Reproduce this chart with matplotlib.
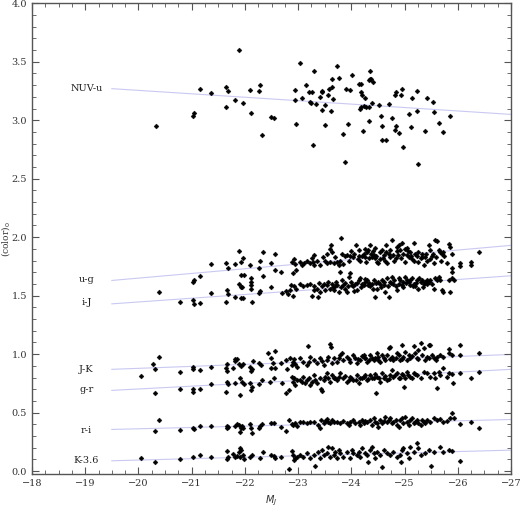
import matplotlib
matplotlib.use("Agg")
import matplotlib.pyplot as plt
from matplotlib.ticker import MultipleLocator, FormatStrFormatter

# ---------------- data ----------------
nuv_x = [-20.33, -21.02, -21.04, -21.15, -21.37, -21.65, -21.68, -21.65, -21.82, -21.88, -21.97, -22.10,
         -22.11, -22.26, -22.29, -22.33, -22.49, -22.55, -22.95, -22.94, -22.96, -23.04, -23.08, -23.14,
         -23.20, -23.26, -23.23, -23.25, -23.30, -23.28, -23.33, -23.41, -23.44, -23.45, -23.45, -23.50,
         -23.51, -23.57, -23.58, -23.63, -23.63, -23.61, -23.66, -23.74, -23.77, -23.85, -23.88, -23.90,
         -23.93, -23.98, -24.02, -24.15, -24.19, -24.18, -24.20, -24.25, -24.17, -24.19, -24.23, -24.27,
         -24.22, -24.33, -24.34, -24.36, -24.33, -24.36, -24.37, -24.41, -24.38, -24.52, -24.56, -24.57,
         -24.57, -24.65, -24.70, -24.77, -24.82, -24.84, -24.84, -24.82, -24.90, -24.93, -24.96, -24.97,
         -25.08, -25.13, -25.14, -25.24, -25.23, -25.26, -25.39, -25.43, -25.53, -25.56, -25.65, -25.72,
         -25.85]
nuv_y = [2.95, 3.04, 3.06, 3.27, 3.23, 3.28, 3.25, 3.11, 3.17, 3.60, 3.15, 3.26,
         3.06, 3.25, 3.30, 2.87, 3.03, 3.02, 3.26, 3.17, 2.97, 3.49, 3.19, 3.30,
         3.24, 3.24, 3.16, 3.15, 3.42, 2.79, 3.14, 3.20, 3.25, 3.24, 3.09, 3.13,
         2.96, 3.22, 3.27, 3.28, 3.35, 3.08, 3.18, 3.46, 3.36, 2.88, 2.64, 3.27,
         2.97, 3.26, 3.39, 3.31, 3.31, 3.24, 3.22, 3.19, 3.10, 3.11, 3.12, 3.11,
         2.91, 2.99, 3.11, 3.42, 3.34, 3.35, 3.35, 3.33, 3.15, 3.13, 3.04, 2.95,
         2.83, 2.83, 3.14, 3.02, 3.22, 3.24, 2.95, 2.92, 2.89, 3.22, 3.27, 2.77,
         3.05, 2.94, 3.19, 3.25, 3.08, 2.63, 2.91, 3.19, 3.16, 3.07, 2.98, 2.90,
         3.04]

ug_x = [-21.03, -21.04, -21.15, -21.37, -21.65, -21.68, -21.82, -21.88, -21.93, -21.97, -21.88, -21.92,
        -21.98, -22.10, -22.11, -22.11, -22.26, -22.29, -22.34, -22.34, -22.49, -22.56, -22.56, -22.68,
        -22.93, -22.94, -22.96, -22.88, -22.91,
        -23.80, -23.62, -23.59, -23.54, -23.64, -23.29, -23.26, -23.28, -23.23, -23.29, -23.17, -23.12,
        -23.04, -23.07, -23.51, -23.54, -23.60, -23.67, -23.73, -23.76, -23.82, -23.89, -23.92, -23.98,
        -24.04, -24.09, -24.14, -24.17, -24.23, -24.26, -24.29, -24.32, -24.36, -24.37, -24.39, -24.42,
        -24.45, -24.48, -24.51, -24.54, -24.58, -24.61, -24.64, -24.67, -24.70, -24.73, -24.76, -24.79,
        -24.83, -24.86, -24.89, -24.92, -24.95, -24.98, -25.01, -25.04, -25.08, -25.11, -25.14, -25.17,
        -25.20, -25.23, -25.26, -25.30, -25.33, -25.36, -25.39, -25.42, -25.45, -25.48, -25.51, -25.55,
        -25.58, -25.61, -25.64, -25.67, -25.70, -25.73, -25.80, -25.83, -25.86, -25.89, -25.90, -26.05,
        -26.05, -26.25, -26.25, -26.40,
        -24.05, -24.12, -24.20, -24.27, -24.34, -24.41, -24.47, -24.53, -24.60, -24.66, -24.72, -24.80,
        -24.87, -24.94, -25.00, -25.06, -25.12, -25.18, -25.25, -25.32, -25.40, -25.47, -25.53, -25.60,
        -25.68, -25.75, -23.35, -23.42, -23.47, -23.70, -23.78, -23.85, -23.95, -24.00, -24.15, -24.25,
        -24.45, -24.65, -24.85, -25.05]
ug_y = [1.62, 1.63, 1.67, 1.77, 1.78, 1.74, 1.77, 1.88, 1.79, 1.82, 1.60, 1.68,
        1.68, 1.76, 1.65, 1.62, 1.74, 1.80, 1.87, 1.67, 1.78, 1.86, 1.72, 1.70,
        1.81, 1.77, 1.72, 1.79, 1.69,
        1.99, 1.93, 1.90, 1.86, 1.87, 1.85, 1.82, 1.79, 1.78, 1.76, 1.80, 1.78,
        1.79, 1.76, 1.80, 1.78, 1.79, 1.78, 1.79, 1.76, 1.86, 1.84, 1.85, 1.84,
        1.83, 1.93, 1.84, 1.80, 1.86, 1.83, 1.87, 1.89, 1.93, 1.86, 1.83, 1.85,
        1.82, 1.79, 1.78, 1.87, 1.89, 1.85, 1.80, 1.78, 1.86, 1.89, 1.98, 1.85,
        1.82, 1.92, 1.93, 1.89, 1.95, 1.86, 1.90, 1.85, 1.83, 1.87, 1.81, 1.95,
        1.86, 1.84, 1.79, 1.82, 1.86, 1.76, 1.83, 1.80, 1.93, 1.89, 1.84, 1.78,
        1.98, 1.97, 1.89, 1.87, 1.86, 1.87, 1.78, 1.94, 1.92, 1.86, 1.74, 1.78,
        1.75, 1.79, 1.76, 1.87,
        1.86, 1.81, 1.84, 1.79, 1.82, 1.88, 1.84, 1.81, 1.82, 1.87, 1.83, 1.80,
        1.85, 1.82, 1.79, 1.88, 1.84, 1.80, 1.87, 1.83, 1.86, 1.81, 1.86, 1.83,
        1.80, 1.84, 1.80, 1.76, 1.83, 1.83, 1.80, 1.77, 1.80, 1.88, 1.89, 1.90,
        1.91, 1.93, 1.88, 1.91]

ij_x = [-20.39, -20.78, -21.03, -21.04, -21.15, -21.37, -21.66, -21.68, -21.65, -21.82, -21.92, -21.95,
        -21.92, -21.97, -22.11, -22.12, -22.13, -22.29, -22.27, -22.49, -22.69, -22.77, -22.81, -22.84,
        -22.87, -22.91, -22.93, -22.96,
        -23.04, -23.10, -23.17, -23.23, -23.26, -23.29, -23.35, -23.38, -23.42, -23.45, -23.48, -23.51,
        -23.54, -23.60, -23.64, -23.67, -23.70, -23.73, -23.76, -23.79, -23.82, -23.85, -23.89, -23.92,
        -23.95, -23.98, -24.01, -24.04, -24.07, -24.11, -24.14, -24.17, -24.20, -24.23, -24.26, -24.29,
        -24.32, -24.36, -24.39, -24.42, -24.45, -24.48, -24.51, -24.54, -24.58, -24.61, -24.64, -24.67,
        -24.70, -24.73, -24.76, -24.79, -24.83, -24.86, -24.89, -24.92, -24.95, -24.98, -25.01, -25.04,
        -25.08, -25.11, -25.14, -25.17, -25.20, -25.23, -25.26, -25.30, -25.33, -25.36, -25.39, -25.42,
        -25.45, -25.48, -25.51, -25.55, -25.58, -25.61, -25.64, -25.67, -25.70, -25.73, -25.83, -25.85,
        -25.89, -25.92, -25.90,
        -24.10, -24.18, -24.25, -24.33, -24.40, -24.47, -24.55, -24.62, -24.68, -24.75, -24.81, -24.90,
        -24.97, -25.03, -25.10, -25.15, -25.22, -25.28, -25.35, -25.43, -23.30, -23.40, -23.57, -23.65,
        -23.72, -23.80, -23.88, -23.94, -24.00, -24.05]
ij_y = [1.53, 1.45, 1.46, 1.43, 1.44, 1.52, 1.55, 1.51, 1.45, 1.49, 1.57, 1.57,
        1.48, 1.48, 1.56, 1.59, 1.45, 1.54, 1.52, 1.57, 1.52, 1.54, 1.51, 1.55,
        1.59, 1.50, 1.58, 1.56,
        1.60, 1.58, 1.59, 1.60, 1.50, 1.58, 1.56, 1.49, 1.53, 1.58, 1.60, 1.55,
        1.59, 1.56, 1.60, 1.55, 1.58, 1.59, 1.53, 1.70, 1.63, 1.59, 1.56, 1.53,
        1.66, 1.69, 1.59, 1.58, 1.60, 1.55, 1.63, 1.65, 1.60, 1.59, 1.62, 1.63,
        1.59, 1.58, 1.60, 1.63, 1.49, 1.56, 1.62, 1.60, 1.63, 1.59, 1.53, 1.65,
        1.49, 1.62, 1.66, 1.60, 1.58, 1.55, 1.65, 1.63, 1.59, 1.62, 1.66, 1.63,
        1.62, 1.59, 1.65, 1.60, 1.58, 1.63, 1.56, 1.62, 1.63, 1.60, 1.62, 1.63,
        1.62, 1.63, 1.60, 1.56, 1.65, 1.63, 1.66, 1.63, 1.55, 1.53, 1.63, 1.53,
        1.65, 1.63, 1.70,
        1.61, 1.57, 1.64, 1.61, 1.56, 1.61, 1.57, 1.62, 1.58, 1.61, 1.63, 1.60,
        1.57, 1.61, 1.63, 1.58, 1.61, 1.65, 1.57, 1.60, 1.55, 1.61, 1.62, 1.57,
        1.62, 1.57, 1.61, 1.58, 1.62, 1.54]

jk_x = [-20.05, -20.28, -20.32, -20.39, -20.78, -21.03, -21.03, -21.15, -21.37, -21.66, -21.65, -21.66,
        -21.82, -21.86, -21.82, -21.78, -21.88, -21.93, -21.96, -22.10, -22.13, -22.11, -22.15, -22.26,
        -22.30, -22.44, -22.56, -22.49, -22.52, -22.49, -22.56, -22.68, -22.77, -22.79, -22.85, -22.88,
        -22.91, -22.94, -22.97, -22.93,
        -23.18, -23.60, -23.62,
        -23.04, -23.10, -23.17, -23.23, -23.29, -23.35, -23.42, -23.48, -23.54, -23.57, -23.64, -23.67,
        -23.73, -23.79, -23.82, -23.85, -23.92, -23.98, -24.04, -24.07, -24.11, -24.17, -24.23, -24.26,
        -24.29, -24.36, -24.39, -24.42, -24.48, -24.51, -24.54, -24.61, -24.67, -24.70, -24.73, -24.76,
        -24.79, -24.86, -24.92, -24.95, -24.98, -25.01, -25.04, -25.08, -25.11, -25.17, -25.20, -25.23,
        -25.26, -25.30, -25.33, -25.36, -25.39, -25.42, -25.45, -25.48, -25.51, -25.55, -25.61, -25.67,
        -25.73, -25.83, -25.84, -25.89, -26.05, -26.05, -26.40,
        -24.12, -24.20, -24.33, -24.45, -24.57, -24.64, -24.83, -24.89, -25.14, -25.26, -23.95, -23.76,
        -23.45, -23.20, -24.25, -24.50, -24.72, -24.95, -25.45, -25.60]
jk_y = [0.815, 0.912, 0.872, 0.975, 0.849, 0.889, 0.872, 0.866, 0.889, 0.912, 0.884, 0.858,
        0.958, 0.958, 0.938, 0.884, 0.915, 0.901, 0.912, 0.892, 0.869, 0.858, 0.943, 0.921,
        0.906, 1.012, 1.026, 0.963, 0.921, 0.884, 0.884, 0.921, 0.949, 0.872, 0.963, 0.906,
        0.935, 0.915, 0.892, 0.955,
        1.072, 1.083, 1.063,
        0.963, 0.935, 0.906, 0.977, 0.949, 0.921, 0.963, 0.906, 0.949, 0.977, 0.921, 0.963,
        0.935, 0.992, 1.006, 0.949, 0.977, 0.935, 0.992, 0.963, 0.921, 0.949, 0.992, 0.963,
        0.935, 0.992, 0.963, 0.949, 1.006, 0.977, 0.935, 0.963, 0.992, 1.049, 1.063, 0.977,
        0.949, 1.006, 0.949, 1.077, 0.977, 1.020, 0.949, 0.992, 0.963, 1.069, 1.006, 0.963,
        1.035, 1.092, 0.992, 1.049, 0.949, 0.977, 1.077, 1.077, 0.992, 0.963, 0.977, 0.992,
        0.977, 1.006, 1.040, 0.992, 1.077, 0.992, 1.012,
        0.96, 0.98, 0.95, 0.97, 0.99, 0.95, 0.97, 0.99, 0.98, 0.96, 0.96, 0.97,
        0.94, 0.93, 0.97, 0.95, 0.96, 0.96, 0.97, 0.95]

gr_x = [-20.32, -20.78, -21.02, -21.03, -21.15, -21.37, -21.66, -21.68, -21.65, -21.90, -21.95, -21.98,
        -21.82, -21.91, -22.10, -22.13, -22.11, -22.26, -22.32, -22.47, -22.55, -22.69, -22.77, -22.82,
        -22.88, -22.91, -22.94, -22.97, -22.93,
        -23.04, -23.07, -23.10, -23.13, -23.17, -23.20, -23.23, -23.26, -23.29, -23.32, -23.35, -23.42,
        -23.43, -23.45, -23.48, -23.51, -23.54, -23.57, -23.60, -23.64, -23.67, -23.73, -23.76, -23.79,
        -23.85, -23.92, -23.98, -24.04, -24.11, -24.14, -24.17, -24.23, -24.29, -24.36, -24.42, -24.47,
        -24.48, -24.54, -24.58, -24.61, -24.67, -24.73, -24.76, -24.79, -24.86, -24.92, -24.98, -24.99,
        -25.04, -25.11, -25.17, -25.23, -25.30, -25.36, -25.42, -25.48, -25.55, -25.58, -25.61, -25.64,
        -25.67, -25.73, -25.80, -25.84, -25.90, -25.91, -26.05, -26.25, -26.40,
        -24.00, -24.08, -24.20, -24.26, -24.32, -24.39, -24.45, -24.52, -24.63, -24.70, -24.82, -24.89,
        -24.95, -25.01, -25.07, -25.14, -25.20, -23.70, -23.88, -23.95]
gr_y = [0.664, 0.698, 0.698, 0.680, 0.698, 0.741, 0.758, 0.744, 0.673, 0.792, 0.764, 0.741,
        0.755, 0.650, 0.750, 0.721, 0.693, 0.744, 0.778, 0.764, 0.792, 0.750, 0.670, 0.693,
        0.807, 0.764, 0.735, 0.778, 0.792,
        0.778, 0.764, 0.807, 0.750, 0.778, 0.792, 0.735, 0.764, 0.821, 0.778, 0.750, 0.792,
        0.698, 0.687, 0.778, 0.807, 0.835, 0.792, 0.764, 0.821, 0.792, 0.778, 0.807, 0.835,
        0.792, 0.764, 0.807, 0.778, 0.821, 0.750, 0.792, 0.807, 0.778, 0.821, 0.792, 0.664,
        0.807, 0.764, 0.835, 0.792, 0.778, 0.821, 0.864, 0.807, 0.835, 0.792, 0.821, 0.721,
        0.849, 0.807, 0.835, 0.821, 0.792, 0.849, 0.835, 0.807, 0.835, 0.792, 0.713, 0.849,
        0.821, 0.878, 0.807, 0.835, 0.827, 0.755, 0.835, 0.798, 0.849,
        0.80, 0.78, 0.80, 0.82, 0.79, 0.80, 0.83, 0.80, 0.81, 0.79, 0.82, 0.80,
        0.83, 0.80, 0.82, 0.80, 0.83, 0.80, 0.81, 0.78]

ri_x = [-20.39, -20.32, -20.78, -21.03, -21.04, -21.15, -21.37, -21.66, -21.66, -21.68, -21.82, -21.86,
        -21.91, -21.94, -21.97, -21.92, -21.88, -22.10, -22.11, -22.13, -22.26, -22.29, -22.33, -22.49,
        -22.55, -22.68, -22.77, -22.83, -22.88, -22.91, -22.94, -22.97,
        -23.04, -23.10, -23.17, -23.23, -23.29, -23.38, -23.42, -23.43, -23.48, -23.51, -23.54, -23.57,
        -23.60, -23.64, -23.67, -23.73, -23.79, -23.85, -23.92, -23.95, -23.98, -24.04, -24.07, -24.14,
        -24.17, -24.20, -24.23, -24.26, -24.29, -24.36, -24.39, -24.42, -24.45, -24.48, -24.51, -24.54,
        -24.58, -24.61, -24.64, -24.67, -24.70, -24.73, -24.76, -24.79, -24.83, -24.86, -24.89, -24.92,
        -24.95, -24.98, -25.01, -25.04, -25.08, -25.11, -25.14, -25.17, -25.20, -25.23, -25.26, -25.30,
        -25.33, -25.36, -25.39, -25.42, -25.48, -25.55, -25.61, -25.67, -25.73, -25.80, -25.85, -25.89,
        -25.92, -26.05, -26.25, -26.40]
ri_y = [0.441, 0.345, 0.347, 0.365, 0.359, 0.385, 0.387, 0.385, 0.365, 0.376, 0.387, 0.399,
        0.330, 0.385, 0.365, 0.370, 0.393, 0.399, 0.365, 0.322, 0.365, 0.387, 0.402, 0.407,
        0.407, 0.379, 0.342, 0.436, 0.399, 0.393, 0.407, 0.387,
        0.422, 0.416, 0.407, 0.422, 0.416, 0.393, 0.365, 0.436, 0.407, 0.427, 0.444, 0.422,
        0.407, 0.436, 0.416, 0.422, 0.407, 0.427, 0.407, 0.393, 0.422, 0.436, 0.407, 0.422,
        0.393, 0.436, 0.407, 0.427, 0.416, 0.436, 0.393, 0.450, 0.422, 0.407, 0.379, 0.436,
        0.407, 0.427, 0.464, 0.422, 0.436, 0.450, 0.407, 0.422, 0.436, 0.393, 0.379, 0.436,
        0.450, 0.407, 0.464, 0.422, 0.393, 0.436, 0.450, 0.407, 0.422, 0.436, 0.407, 0.393,
        0.436, 0.422, 0.407, 0.436, 0.422, 0.450, 0.436, 0.444, 0.422, 0.427, 0.450, 0.493,
        0.450, 0.399, 0.416, 0.365]

k36_x = [-20.05, -20.32, -20.78, -21.03, -21.15, -21.37, -21.66, -21.66, -21.69, -21.78, -21.82, -21.85,
         -21.88, -21.91, -21.93, -21.96, -21.98, -21.91, -22.10, -22.13, -22.29, -22.34, -22.49, -22.54,
         -22.57, -22.68, -22.83, -22.89, -22.91, -22.94, -22.97, -22.92,
         -23.04, -23.10, -23.17, -23.23, -23.29, -23.31, -23.38, -23.42, -23.45, -23.48, -23.54, -23.57,
         -23.60, -23.64, -23.67, -23.70, -23.73, -23.76, -23.79, -23.85, -23.92, -23.98, -24.01, -24.04,
         -24.11, -24.14, -24.17, -24.20, -24.26, -24.29, -24.32, -24.36, -24.39, -24.42, -24.45, -24.48,
         -24.54, -24.58, -24.61, -24.67, -24.73, -24.79, -24.86, -24.92, -24.93, -24.95, -24.98, -25.04,
         -25.08, -25.11, -25.17, -25.23, -25.26, -25.30, -25.39, -25.45, -25.50, -25.55, -25.67, -25.73,
         -25.83, -25.89, -26.05]
k36_y = [0.114, 0.077, 0.100, 0.117, 0.137, 0.117, 0.174, 0.102, 0.122, 0.142, 0.122, 0.131,
         0.165, 0.194, 0.179, 0.137, 0.102, 0.122, 0.122, 0.137, 0.108, 0.160, 0.137, 0.131,
         0.108, 0.122, 0.017, 0.174, 0.137, 0.108, 0.122, 0.094,
         0.137, 0.122, 0.151, 0.108, 0.137, 0.043, 0.165, 0.108, 0.179, 0.137, 0.151, 0.208,
         0.122, 0.194, 0.137, 0.165, 0.108, 0.179, 0.151, 0.122, 0.165, 0.108, 0.179, 0.151,
         0.137, 0.165, 0.122, 0.194, 0.151, 0.137, 0.080, 0.179, 0.208, 0.151, 0.108, 0.165,
         0.137, 0.037, 0.179, 0.151, 0.137, 0.165, 0.122, 0.137, 0.074, 0.179, 0.194, 0.151,
         0.108, 0.208, 0.165, 0.236, 0.194, 0.137, 0.151, 0.179, 0.043, 0.165, 0.208, 0.165,
         0.179, 0.171, 0.085]

series_names = ["NUV-u", "u-g", "i-J", "J-K", "g-r", "r-i", "K-3.6"]
fit_x = [-19.5, -27.0]
fit_start = [3.27, 1.63, 1.43, 0.87, 0.69, 0.356, 0.088]
fit_end = [3.05, 1.93, 1.67, 0.997, 0.87, 0.441, 0.179]
label_y = [3.27, 1.64, 1.44, 0.87, 0.70, 0.35, 0.088]
label_x = -19.02

# ---------------- plot ----------------
plt.rcParams['font.family'] = ['DejaVu Serif']
fig = plt.figure(figsize=(5.21, 5.07), dpi=100)
ax = fig.add_axes([32 / 521, 33 / 507, 479 / 521, 470.7 / 507])

line_col = '#c9c9f2'
for s, e in zip(fit_start, fit_end):
    ax.plot(fit_x, [s, e], color=line_col, lw=0.8, zorder=1)

all_x = [nuv_x, ug_x, ij_x, jk_x, gr_x, ri_x, k36_x]
all_y = [nuv_y, ug_y, ij_y, jk_y, gr_y, ri_y, k36_y]
for xs, ys in zip(all_x, all_y):
    ax.plot(xs, ys, linestyle='none', marker='D', ms=2.5, color='black', mec='black', mew=0.3, zorder=2)

for name, ly in zip(series_names, label_y):
    ax.text(label_x, ly, name, ha='center', va='center', fontsize=7, color='#222222')

ax.set_xlim(-18, -27)
ax.set_ylim(-0.025, 4.0)
ax.xaxis.set_major_locator(MultipleLocator(1))
ax.xaxis.set_minor_locator(MultipleLocator(0.25))
ax.yaxis.set_major_locator(MultipleLocator(0.5))
ax.yaxis.set_minor_locator(MultipleLocator(0.1))
ax.yaxis.set_major_formatter(FormatStrFormatter('%.1f'))

spine_col = '#555555'
for sp in ax.spines.values():
    sp.set_color(spine_col)
    sp.set_linewidth(1.0)
ax.tick_params(which='both', direction='in', top=True, right=True, color=spine_col,
               labelsize=7, labelcolor='#333333')
ax.tick_params(which='major', length=5, width=0.8)
ax.tick_params(which='minor', length=3, width=0.6)

ax.set_xlabel('$M_J$', fontsize=7, color='#333333', labelpad=4)
ax.set_ylabel('(color)$_0$', fontsize=6.5, color='#333333')
ax.yaxis.set_label_coords(-0.041, 0.5)

fig.savefig('out.png', dpi=100)
